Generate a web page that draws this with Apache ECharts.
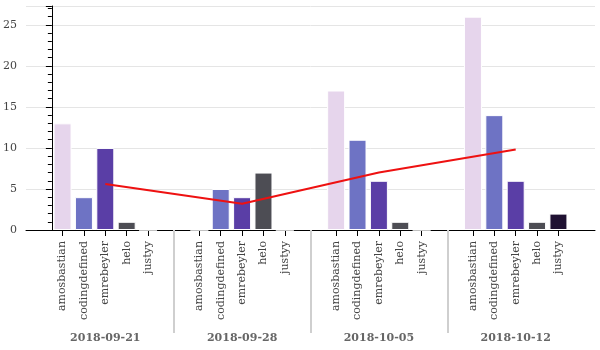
<!DOCTYPE html>
<html>
<head>
<meta charset="utf-8">
<script src="https://cdn.jsdelivr.net/npm/echarts@6/dist/echarts.min.js"></script>
<style>
  html, body { margin: 0; padding: 0; background: #fff; }
  #main { width: 600px; height: 350px; }
</style>
</head>
<body>
<div id="main"></div>
<script>
  // weeks and contributors
  var dates = ['2018-09-21', '2018-09-28', '2018-10-05', '2018-10-12'];
  var people = ['amosbastian', 'codingdefined', 'emrebeyler', 'helo', 'justyy'];

  // counts per contributor, one value per week
  var amosbastian = [13, 0, 17, 26];
  var codingdefined = [4, 5, 11, 14];
  var emrebeyler = [10, 4, 6, 6];
  var helo = [1, 7, 1, 1];
  var justyy = [0, 0, 0, 2];

  // weekly average (red line)
  var average = [5.6, 3.2, 7, 9.8];

  var colors = ['#e6d5ec', '#6e73c4', '#5a3ea6', '#4d4d54', '#1f1132'];
  var byPerson = [amosbastian, codingdefined, emrebeyler, helo, justyy];

  // nested factor positions: 5 factors per group, 1.4 padding between groups
  var groupPad = 1.4;
  function pos(g, j) {
    return g * (people.length + groupPad) + j + 0.5;
  }
  function key(v) {
    return v.toFixed(2);
  }

  var barData = [];
  var factorTicks = [];
  var factorNames = {};
  var groupTicks = [];
  var groupNames = {};
  var separators = [];
  var lineData = [];

  for (var g = 0; g < dates.length; g++) {
    for (var j = 0; j < people.length; j++) {
      var x = pos(g, j);
      factorTicks.push(x);
      factorNames[key(x)] = people[j];
      barData.push({ value: [x, byPerson[j][g]], itemStyle: { color: colors[j] } });
    }
    var mid = pos(g, 2);
    groupTicks.push(mid);
    groupNames[key(mid)] = dates[g];
    lineData.push([mid, average[g]]);
    if (g < dates.length - 1) {
      separators.push(pos(g, people.length - 1) + 0.5 + groupPad / 2);
    }
  }

  var xMin = -1.21;
  var xMax = pos(dates.length - 1, people.length - 1) + 0.5 + 1.21;

  var labelFont = 'DejaVu Serif';
  var myChart = echarts.init(document.getElementById('main'));

  var option = {
    animation: false,
    grid: { left: 26, right: 5, top: 6, bottom: 120 },
    xAxis: [{
      type: 'value',
      min: xMin,
      max: xMax,
      splitLine: { show: false },
      axisLine: { show: true, onZero: false, lineStyle: { color: '#000', width: 1 } },
      axisTick: { show: true, customValues: factorTicks, length: 6, lineStyle: { color: '#000' } },
      axisLabel: {
        customValues: factorTicks,
        rotate: 90,
        margin: 11,
        fontFamily: labelFont,
        fontSize: 11,
        color: '#444',
        formatter: function (v) { return factorNames[key(v)] || ''; }
      }
    }, {
      type: 'value',
      min: xMin,
      max: xMax,
      position: 'bottom',
      offset: 5,
      splitLine: { show: false },
      axisLine: { show: false },
      axisTick: { show: true, customValues: separators, length: 103, lineStyle: { color: '#cfcfcf', width: 2 } },
      axisLabel: {
        customValues: groupTicks,
        margin: 98,
        fontFamily: labelFont,
        fontSize: 11,
        fontWeight: 'bold',
        color: '#666',
        formatter: function (v) { return groupNames[key(v)] || ''; }
      }
    }],
    yAxis: {
      type: 'value',
      min: 0,
      max: 27.3,
      interval: 5,
      axisLine: { show: true, lineStyle: { color: '#000', width: 1 } },
      axisTick: { show: true, length: 6, lineStyle: { color: '#000' } },
      minorTick: { show: true, splitNumber: 5, length: 4, lineStyle: { color: '#000' } },
      splitLine: { show: true, lineStyle: { color: '#e5e5e5', width: 1 } },
      axisLabel: {
        margin: 9,
        fontFamily: labelFont,
        fontSize: 11,
        color: '#444',
        showMaxLabel: false,
        formatter: function (v) { return v % 5 === 0 ? String(v) : ''; }
      }
    },
    series: [{
      type: 'bar',
      xAxisIndex: 0,
      barWidth: 18,
      itemStyle: { borderColor: '#fff', borderWidth: 1 },
      data: barData
    }, {
      type: 'line',
      xAxisIndex: 0,
      symbol: 'none',
      z: 5,
      lineStyle: { color: '#ee1111', width: 2 },
      data: lineData
    }]
  };

  myChart.setOption(option);
</script>
</body>
</html>
